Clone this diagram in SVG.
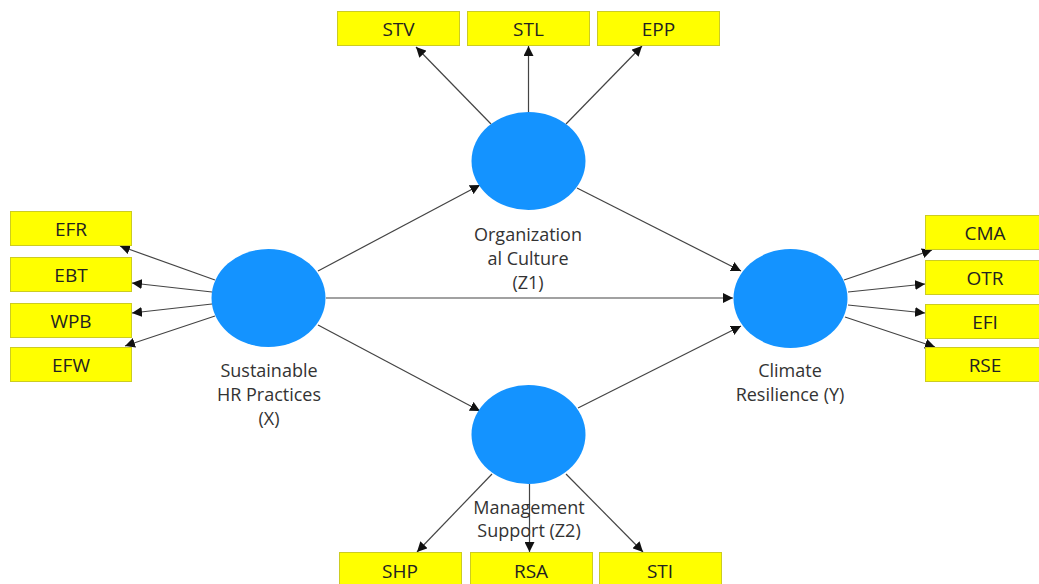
<svg xmlns="http://www.w3.org/2000/svg" width="1039" height="584" viewBox="0 0 1039 584">
<defs>
<marker id="ah" viewBox="0 0 10 10" refX="10" refY="5" markerWidth="10" markerHeight="10" markerUnits="userSpaceOnUse" orient="auto">
<path d="M0,0 L10,5 L0,10 z" fill="#111"/>
</marker>
</defs>
<style>
.box{fill:#ffff00;stroke:#cccc22;stroke-width:1}
.bt{font-family:"Open Sans","Noto Sans",sans-serif;font-size:19px;fill:#222;text-anchor:middle}
.lv{fill:#1493ff}
.lt{font-family:"Open Sans","Noto Sans",sans-serif;font-size:18px;fill:#333;text-anchor:middle}
.c{stroke:#444;stroke-width:1.2;fill:none;marker-end:url(#ah)}
</style>
<rect width="1039" height="584" fill="#fff"/>
<g id="connectors">
<line class="c" x1="491" y1="124" x2="416" y2="47"/>
<line class="c" x1="528.5" y1="112" x2="528.5" y2="46"/>
<line class="c" x1="566" y1="124" x2="642" y2="46"/>
<line class="c" x1="318" y1="271" x2="480" y2="185"/>
<line class="c" x1="577" y1="188" x2="741" y2="271"/>
<line class="c" x1="326" y1="298" x2="733" y2="298"/>
<line class="c" x1="318" y1="325" x2="480" y2="411"/>
<line class="c" x1="578" y1="408" x2="741" y2="326"/>
<line class="c" x1="215" y1="280" x2="120" y2="246"/>
<line class="c" x1="212" y1="292" x2="132" y2="283"/>
<line class="c" x1="212" y1="304" x2="132" y2="313"/>
<line class="c" x1="215" y1="316" x2="125" y2="346"/>
<line class="c" x1="844" y1="280" x2="932" y2="250"/>
<line class="c" x1="848" y1="292" x2="925" y2="284"/>
<line class="c" x1="848" y1="305" x2="925" y2="313"/>
<line class="c" x1="845" y1="317" x2="935" y2="347"/>
<line class="c" x1="492" y1="474" x2="417" y2="552"/>
<line class="c" x1="529.5" y1="484" x2="529.5" y2="552"/>
<line class="c" x1="566" y1="474" x2="643" y2="552"/>
</g>
<g id="STV"><rect class="box" x="337.5" y="11.5" width="122" height="34"/><text class="bt" x="398.5" y="35.5">STV</text></g>
<g id="STL"><rect class="box" x="467.5" y="11.5" width="122" height="34"/><text class="bt" x="528.5" y="35.5">STL</text></g>
<g id="EPP"><rect class="box" x="597.5" y="11.5" width="122" height="34"/><text class="bt" x="658.5" y="35.5">EPP</text></g>
<g id="EFR"><rect class="box" x="10.5" y="211.5" width="121" height="34"/><text class="bt" x="71" y="235.5">EFR</text></g>
<g id="EBT"><rect class="box" x="10.5" y="257.5" width="121" height="34"/><text class="bt" x="71" y="281.5">EBT</text></g>
<g id="WPB"><rect class="box" x="10.5" y="303.5" width="121" height="34"/><text class="bt" x="71" y="327.5">WPB</text></g>
<g id="EFW"><rect class="box" x="10.5" y="347.5" width="121" height="34"/><text class="bt" x="71" y="371.5">EFW</text></g>
<g id="CMA"><rect class="box" x="925.5" y="215.5" width="122" height="34"/><text class="bt" x="985" y="239.5">CMA</text></g>
<g id="OTR"><rect class="box" x="925.5" y="260.5" width="122" height="34"/><text class="bt" x="985" y="284.5">OTR</text></g>
<g id="EFI"><rect class="box" x="925.5" y="304.5" width="122" height="34"/><text class="bt" x="985" y="328.5">EFI</text></g>
<g id="RSE"><rect class="box" x="925.5" y="347.5" width="122" height="34"/><text class="bt" x="985" y="371.5">RSE</text></g>
<g id="SHP"><rect class="box" x="339.5" y="552.5" width="122" height="34"/><text class="bt" x="400" y="578">SHP</text></g>
<g id="RSA"><rect class="box" x="470.5" y="552.5" width="122" height="34"/><text class="bt" x="531" y="578">RSA</text></g>
<g id="STI"><rect class="box" x="599.5" y="552.5" width="122" height="34"/><text class="bt" x="660" y="578">STI</text></g>
<g id="Z1"><ellipse class="lv" cx="528.5" cy="161" rx="57" ry="49"/>
<text class="lt" x="528" y="241">Organization</text><text class="lt" x="528" y="265">al Culture</text><text class="lt" x="528" y="289">(Z1)</text></g>
<g id="X"><ellipse class="lv" cx="268.5" cy="298" rx="57" ry="49"/>
<text class="lt" x="269" y="377">Sustainable</text><text class="lt" x="269" y="401">HR Practices</text><text class="lt" x="269" y="425">(X)</text></g>
<g id="Y"><ellipse class="lv" cx="790.5" cy="298.5" rx="57" ry="49.5"/>
<text class="lt" x="790" y="377">Climate</text><text class="lt" x="790" y="401">Resilience (Y)</text></g>
<g id="Z2"><ellipse class="lv" cx="528.5" cy="434.5" rx="57" ry="49.5"/>
<text class="lt" x="529" y="514">Management</text><text class="lt" x="529" y="537">Support (Z2)</text></g>
</svg>
